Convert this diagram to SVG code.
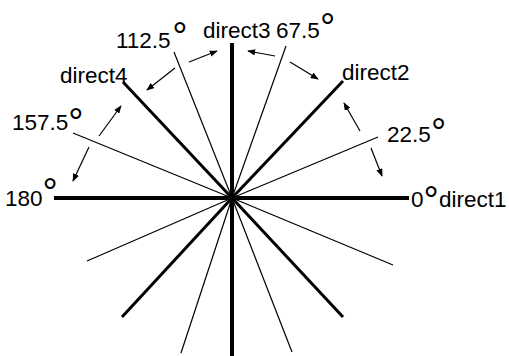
<svg xmlns="http://www.w3.org/2000/svg" width="509" height="356" viewBox="0 0 509 356">
<style>
.ax{stroke:#000;stroke-width:4;stroke-linecap:butt}
.dg{stroke:#000;stroke-width:3;stroke-linecap:butt}
.th{stroke:#000;stroke-width:1.2}
.ar{stroke:#000;stroke-width:1.2;fill:none;marker-end:url(#ah)}
text{font-family:"Liberation Sans",Arial,sans-serif;font-size:22.5px;fill:#000}
.deg{font-size:38px}
</style>
<defs>
<marker id="ah" viewBox="0 0 10 8" refX="9" refY="4" markerWidth="8" markerHeight="6.4" markerUnits="userSpaceOnUse" orient="auto">
<path d="M0,0 L10,4 L0,8 Z" fill="#000"/>
</marker>
</defs>
<g id="connectors">
<g id="axes">
<line class="ax" x1="232" y1="198" x2="409" y2="198"/>
<line class="ax" x1="232" y1="198" x2="54" y2="198"/>
<line class="ax" x1="232" y1="198" x2="232" y2="43"/>
<line class="ax" x1="232" y1="198" x2="232" y2="356"/>
</g>
<g id="diagonals">
<line class="dg" x1="232" y1="198" x2="343" y2="81"/>
<line class="dg" x1="232" y1="198" x2="123" y2="82"/>
<line class="dg" x1="232" y1="198" x2="122" y2="317"/>
<line class="dg" x1="232" y1="198" x2="343" y2="317"/>
</g>
<g id="thin">
<line class="th" x1="232" y1="198" x2="378" y2="137"/>
<line class="th" x1="232" y1="198" x2="286" y2="46"/>
<line class="th" x1="232" y1="198" x2="174" y2="52"/>
<line class="th" x1="232" y1="198" x2="73" y2="133"/>
<line class="th" x1="232" y1="198" x2="87" y2="261"/>
<line class="th" x1="232" y1="198" x2="181" y2="353"/>
<line class="th" x1="232" y1="198" x2="292" y2="352"/>
<line class="th" x1="232" y1="198" x2="393" y2="265"/>
</g>
<g id="arrows">
<line class="ar" x1="360" y1="131" x2="344" y2="103"/>
<line class="ar" x1="371" y1="148" x2="382" y2="176"/>
<line class="ar" x1="275" y1="56" x2="248" y2="51"/>
<line class="ar" x1="290" y1="62" x2="318" y2="79"/>
<line class="ar" x1="175" y1="68" x2="147" y2="90"/>
<line class="ar" x1="189" y1="62" x2="217" y2="51"/>
<line class="ar" x1="99" y1="136" x2="121" y2="106"/>
<line class="ar" x1="89" y1="147" x2="73" y2="181"/>
</g>
</g>
<g id="direct1"><text x="411" y="207">0<tspan class="deg" x="423.5" y="213.4">°</tspan><tspan x="439" y="207">direct1</tspan></text></g>
<g id="direct2"><text x="342" y="80">direct2</text></g>
<g id="direct3"><text x="203" y="38">direct3</text></g>
<g id="direct4"><text x="60" y="83">direct4</text></g>
<g id="label-22"><text x="387" y="142">22.5<tspan class="deg" x="431" y="145.4">°</tspan></text></g>
<g id="label-67"><text x="276" y="38">67.5<tspan class="deg" x="320" y="40.4">°</tspan></text></g>
<g id="label-112"><text x="116" y="48">112.5<tspan class="deg" x="172.3" y="49.4">°</tspan></text></g>
<g id="label-157"><text x="12" y="130">157.5<tspan class="deg" x="68.3" y="135.4">°</tspan></text></g>
<g id="label-180"><text x="5" y="206">180<tspan class="deg" x="42.5" y="205.4">°</tspan></text></g>
</svg>
